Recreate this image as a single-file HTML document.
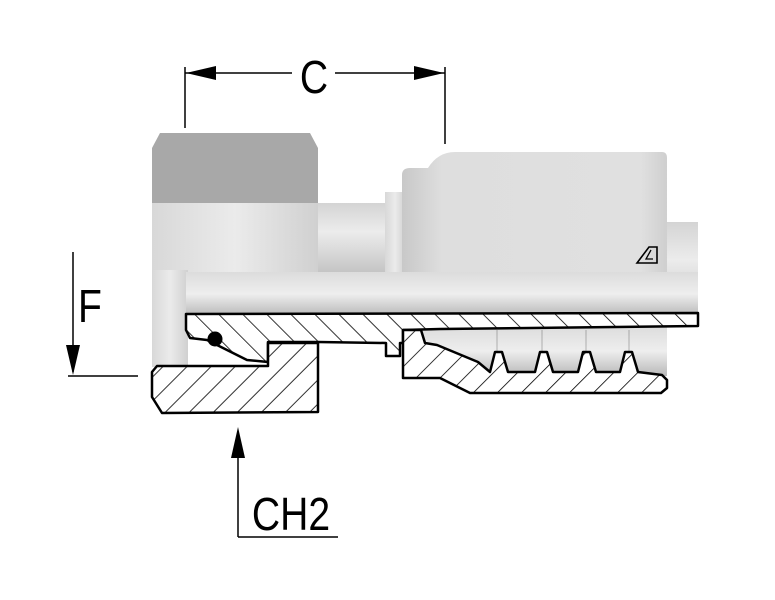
<!DOCTYPE html>
<html><head><meta charset="utf-8"><style>html,body{margin:0;padding:0;background:#fff}svg{display:block}</style></head><body>
<svg width="775" height="600" viewBox="0 0 775 600" xmlns="http://www.w3.org/2000/svg">
<defs>
<pattern id="h" patternUnits="userSpaceOnUse" width="17" height="17" patternTransform="rotate(45)">
<rect width="17" height="17" fill="#fff"/><line x1="0" y1="0" x2="0" y2="17" stroke="#000" stroke-width="1.6"/></pattern>
<pattern id="h2" patternUnits="userSpaceOnUse" width="17" height="17" patternTransform="rotate(-45)">
<rect width="17" height="17" fill="#fff"/><line x1="0" y1="0" x2="0" y2="17" stroke="#000" stroke-width="1.6"/></pattern>
<linearGradient id="gv" x1="0" y1="0" x2="0" y2="1"><stop offset="0" stop-color="#d4d4d4"/><stop offset="0.4" stop-color="#ececec"/><stop offset="1" stop-color="#c2c2c2"/></linearGradient>
<linearGradient id="gt" x1="0" y1="0" x2="0" y2="1"><stop offset="0" stop-color="#dcdcdc"/><stop offset="0.5" stop-color="#eeeeee"/><stop offset="1" stop-color="#b8b8b8"/></linearGradient>
<linearGradient id="gh" x1="0" y1="0" x2="1" y2="0"><stop offset="0" stop-color="#d8d8d8"/><stop offset="0.5" stop-color="#ebebeb"/><stop offset="1" stop-color="#d0d0d0"/></linearGradient>
<linearGradient id="gn" x1="0" y1="0" x2="1" y2="0"><stop offset="0" stop-color="#c8c8c8"/><stop offset="0.15" stop-color="#dedede"/><stop offset="0.9" stop-color="#e0e0e0"/><stop offset="1" stop-color="#cfcfcf"/></linearGradient>
</defs>
<g stroke="#000" stroke-width="1.5" fill="none">
<line x1="185" y1="67" x2="185" y2="128"/><line x1="445" y1="67" x2="445" y2="144"/>
<line x1="185" y1="73" x2="292" y2="73"/><line x1="335" y1="73" x2="445" y2="73"/>
<line x1="73" y1="252" x2="73" y2="372"/><line x1="68" y1="376" x2="138" y2="376"/>
<line x1="238" y1="432" x2="238" y2="537"/><line x1="238" y1="537" x2="338" y2="537"/>
</g>
<polygon points="186,73 216,66 216,80" fill="#000"/>
<polygon points="444,73 414,66 414,80" fill="#000"/>
<polygon points="73,375 66,345 80,345" fill="#000"/>
<polygon points="238,427 231,458 245,458" fill="#000"/>
<text x="314" y="93" font-family="Liberation Sans, sans-serif" font-size="46" text-anchor="middle" transform="translate(314 0) scale(0.85 1) translate(-314 0)">C</text>
<text x="90" y="322" font-family="Liberation Sans, sans-serif" font-size="46" text-anchor="middle" transform="translate(90 0) scale(0.85 1) translate(-90 0)">F</text>
<text x="291" y="530" font-family="Liberation Sans, sans-serif" font-size="46" text-anchor="middle" transform="translate(291 0) scale(0.85 1) translate(-291 0)">CH2</text>
<rect x="660" y="222" width="38" height="95" fill="url(#gv)"/>
<rect x="315" y="203" width="75" height="72" fill="url(#gv)"/>
<rect x="385" y="192" width="20" height="83" fill="url(#gh)"/>
<path d="M402,175 Q402,168 410,168 L428,168 Q438,152 455,152 L662,152 Q667,152 667,158 L667,272 L402,272 Z" fill="url(#gn)"/>
<polygon points="637,263 649,247 657,247 657,263" fill="none" stroke="#000" stroke-width="1.6"/>
<path d="M651,250 L646,259 L653,259" fill="none" stroke="#000" stroke-width="1.3"/>
<path d="M160,133 L310,133 L318,148 L318,203 L152,203 L152,148 Z" fill="#a8a8a8"/>
<path d="M152,203 L318,203 L318,275 L152,275 Z" fill="url(#gh)"/>
<rect x="152" y="270" width="36" height="97" fill="url(#gh)"/>
<rect x="186" y="272" width="512" height="44" fill="url(#gt)"/>
<rect x="420" y="326" width="247" height="50" fill="url(#gt)"/>
<g stroke="#000" stroke-width="1" opacity="0.25"><line x1="497" y1="330" x2="497" y2="370"/><line x1="542" y1="330" x2="542" y2="370"/><line x1="586" y1="330" x2="586" y2="370"/><line x1="629" y1="330" x2="629" y2="370"/></g>
<polygon points="186,314 698,313 698,326 440,329 403,330 403,343 400,343 400,356 386,356 386,343 318,342 268,342 268,362 247,360 207,340 190,338 186,330" fill="url(#h2)" stroke="#000" stroke-width="2.5" stroke-linejoin="round"/>
<circle cx="215" cy="339" r="7.5" fill="#000"/>
<polygon points="157,366 268,366 268,343 318,343 318,412 162,413 152,397 152,372" fill="url(#h)" stroke="#000" stroke-width="2.5" stroke-linejoin="round"/>
<polygon points="403,330 421,330 425,343 437,345 478,362 490,372 495,352 502,352 508,372 535,372 540,352 547,352 553,372 578,372 583,352 590,352 596,372 620,372 625,352 632,352 638,372 662,375 667,380 667,388 661,393 470,393 440,378 403,378" fill="url(#h)" stroke="#000" stroke-width="2.5" stroke-linejoin="round"/>
</svg>
</body></html>
